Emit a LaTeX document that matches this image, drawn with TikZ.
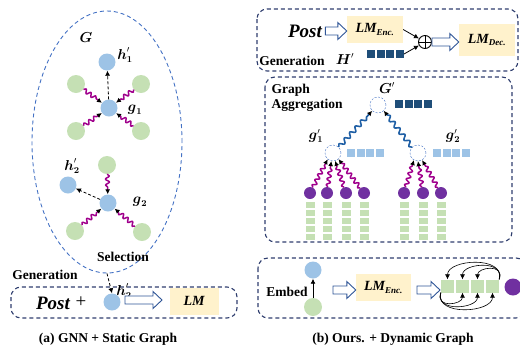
\documentclass[tikz,border=0pt]{standalone}
\usepackage{amsmath,amssymb}
\usepackage{fontspec}
\setmainfont{Liberation Serif}
\usetikzlibrary{arrows.meta,decorations.pathmorphing,shapes.geometric,calc}

\definecolor{nodeblue}{RGB}{157,195,230}
\definecolor{nodegreen}{RGB}{197,224,180}
\definecolor{nodepurple}{RGB}{112,48,160}
\definecolor{wavemag}{RGB}{160,0,140}
\definecolor{waveblue}{RGB}{31,95,165}
\definecolor{boxline}{RGB}{47,62,110}
\definecolor{ellline}{RGB}{68,114,196}
\definecolor{lmfill}{RGB}{255,242,204}
\definecolor{darksq}{RGB}{31,78,121}
\definecolor{arrowline}{RGB}{47,85,151}

\newcommand{\vb}[1]{\boldsymbol{#1}}

\begin{document}
\begin{tikzpicture}[x=1pt,y=-1pt,
	every node/.style={font=\fontsize{13.5}{15}\selectfont\bfseries},
	bnode/.style={circle, fill=nodeblue, minimum size=17pt, inner sep=0pt},
	gnode/.style={circle, fill=nodegreen, minimum size=18pt, inner sep=0pt},
	pnode/.style={circle, fill=nodepurple, minimum size=12pt, inner sep=0pt},
	vnode/.style={circle, draw=ellline, dash pattern=on 2pt off 1.5pt, fill=white, minimum size=16pt, inner sep=0pt},
	lmbox/.style={fill=lmfill, inner sep=0pt, font=\fontsize{14}{16}\selectfont\bfseries\itshape},
	grpbox/.style={draw=boxline, line width=1.1pt, dash pattern=on 4pt off 3pt, rounded corners=10pt},
	hollowarr/.style={draw=arrowline, fill=white, line width=0.9pt, line join=miter,
		to path={let \p1=(\tikztostart), \p2=(\tikztotarget) in
			(\x1,\y1+4pt) -- (\x2-9pt,\y1+4pt) -- (\x2-9pt,\y1+8.5pt) -- (\x2,\y1) -- (\x2-9pt,\y1-8.5pt) -- (\x2-9pt,\y1-4pt) -- (\x1,\y1-4pt) -- cycle}},
	wave/.style={wavemag, line width=1.5pt, line join=round, decorate, decoration={snake, amplitude=2pt, segment length=6pt, post length=5pt}, -{Latex[black,length=5pt,width=5pt]}},
	bwave/.style={waveblue, line width=1.6pt, line join=round, decorate, decoration={snake, amplitude=2.2pt, segment length=8pt, post length=5pt}, -{Latex[black,length=5pt,width=5pt]}},
	dasharr/.style={black, line width=0.8pt, dash pattern=on 3pt off 2pt, -{Latex[length=5pt,width=5pt]}},
	sqdark/.style={fill=darksq, minimum size=8pt, inner sep=0pt},
	sqlight/.style={fill=nodeblue, minimum size=8pt, inner sep=0pt},
	sqgreen/.style={fill=nodegreen, minimum width=9pt, minimum height=6.6pt, inner sep=0pt},
	sqbig/.style={fill=nodegreen, minimum size=13pt, inner sep=0pt}]
	\useasboundingbox (0,0) rectangle (520,349);

	% (a) static graph
	\node[ellipse, draw=ellline, line width=0.9pt, dash pattern=on 4pt off 3pt, minimum width=150pt, minimum height=262pt] (grp) at (107,142) {};
	\node (glab) at (86,38) {$\vb{G}$};
	\node[bnode] (h1) at (107,62) {};
	\node (h1lab) at (125,55) {$\vb{h}'_{\vb{1}}$};
	\node[bnode] (g1) at (109,108) {};
	\node (g1lab) at (135,110) {$\vb{g}_{\vb{1}}$};
	\node[gnode] (ga) at (76,84) {};
	\node[gnode] (gb) at (141,84) {};
	\node[gnode] (gc) at (76,131) {};
	\node[gnode] (gd) at (141,131) {};
	\draw[dasharr] (g1) -- (h1);
	\foreach \n in {ga,gb,gc,gd}
		\draw[wave] (\n) -- (g1);

	\node (h2lab) at (72,166) {$\vb{h}'_{\vb{2}}$};
	\node[gnode] (ge) at (107,165) {};
	\node[bnode] (h2) at (68,185) {};
	\node[bnode] (g2) at (108,203) {};
	\node (g2lab) at (140,202) {$\vb{g}_{\vb{2}}$};
	\node[gnode] (gf) at (75,231) {};
	\node[gnode] (gg) at (142,232) {};
	\draw[dasharr] (g2) -- (h2);
	\foreach \n in {ge,gf,gg}
		\draw[wave] (\n) -- (g2);
	\node (sel) at (123,257) {Selection};

	\node (gen1) at (45,275) {Generation};
	\draw[grpbox] (11,287) rectangle (237,318);
	\node[font=\fontsize{19}{21}\selectfont\bfseries\itshape] (post1) at (53,303) {Post};
	\node[font=\fontsize{19}{21}\selectfont] (plus) at (81,302) {+};
	\node[bnode] (hsel) at (112,302) {};
	\node (hsellab) at (124,291) {$\vb{h}'_{\vb{2}}$};
	\draw[dasharr] (grp.south) -- (hsel.north);
	\node[lmbox, minimum width=49pt, minimum height=27pt] (lm1) at (194,301) {LM};
	\coordinate (ha1s) at (125,300);
	\coordinate (ha1e) at (162,300);
	\draw[hollowarr] (ha1s) to (ha1e);
	\node (capa) at (108,339) {(a) GNN + Static Graph};

	% (b) dynamic graph: generation
	\draw[grpbox] (257,9) rectangle (518,71);
	\node[font=\fontsize{19}{21}\selectfont\bfseries\itshape] (post2) at (305,31) {Post};
	\node[lmbox, minimum width=56pt, minimum height=27pt] (enc1) at (375,29.5) {LM$_{\text{\fontsize{9}{10}\selectfont\bfseries\itshape Enc.}}$};
	\draw[hollowarr] (post2.east) to (enc1.west);
	\node[circle, draw, line width=0.9pt, minimum size=13pt, inner sep=0pt,
		path picture={\draw[line width=0.9pt] (path picture bounding box.north) -- (path picture bounding box.south)
			(path picture bounding box.west) -- (path picture bounding box.east);}] (osum) at (425,42) {};
	\node (gen2) at (292,61) {Generation};
	\node[font=\fontsize{13.5}{15}\selectfont] (hlab) at (345,59) {$\vb{H}'$};
	\foreach \i in {0,...,3}
		\node[sqdark] (hd\i) at (371+\i*9.6,54) {};
	\draw[-{Latex[length=5pt,width=5pt]}, line width=0.8pt] (enc1.east) -- (osum);
	\draw[-{Latex[length=5pt,width=5pt]}, line width=0.8pt] (hd3.east) -- (osum);
	\node[lmbox, minimum width=56pt, minimum height=32pt] (dec) at (487,40) {LM$_{\text{\fontsize{9}{10}\selectfont\bfseries\itshape Dec.}}$};
	\draw[hollowarr] (osum.east) to (dec.west);

	% (b) graph aggregation
	\draw[grpbox] (265,77) rectangle (512,242);
	\node[align=left, anchor=north west] (agg) at (268,81) {Graph\\Aggregation};
	\node[vnode] (gtop) at (378,105) {};
	\node (gtoplab) at (387,88) {$\vb{G}'$};
	\foreach \i in {0,...,3}
		\node[sqdark] (td\i) at (399+\i*9.6,104) {};
	\node[vnode] (gp1) at (333,153) {};
	\node (gp1lab) at (316,136) {$\vb{g}'_{\vb{1}}$};
	\foreach \i in {0,...,3}
		\node[sqlight] (la\i) at (351+\i*9.6,153) {};
	\node[vnode] (gp2) at (418,153) {};
	\node (gp2lab) at (453,136) {$\vb{g}'_{\vb{2}}$};
	\foreach \i in {0,...,3}
		\node[sqlight] (lb\i) at (437+\i*9.6,153) {};
	\draw[bwave] (gp1.north east) -- (gtop.south west);
	\draw[bwave] (gp2.north west) -- (gtop.south east);
	\foreach \x [count=\k] in {310,327,346,364,404,423,441} {
		\node[pnode] (pp\k) at (\x,193) {};
		\foreach \j in {0,...,4}
			\node[sqgreen] (col\k\j) at (\x,205+\j*8) {};
	}
	\foreach \k/\a in {1/230,2/258,3/285,4/312}
		\draw[wave] (pp\k) -- (gp1.\a);
	\foreach \k/\a in {5/240,6/270,7/300}
		\draw[wave] (pp\k) -- (gp2.\a);

	% (b) embedding
	\draw[grpbox] (258,258) rectangle (526,318);
	\node (emb) at (287,292) {Embed};
	\node[bnode] (eb) at (313,270) {};
	\node[gnode] (eg) at (313,307) {};
	\draw[-{Latex[length=5pt,width=5pt]}, line width=0.9pt] (eg.north) -- (eb.south);
	\node[lmbox, minimum width=55pt, minimum height=27pt] (enc2) at (383.5,287.5) {LM$_{\text{\fontsize{9}{10}\selectfont\bfseries\itshape Enc.}}$};
	\coordinate (ha4s) at (333,290);
	\draw[hollowarr] (ha4s) to (enc2.west);
	\foreach \i in {1,...,4}
		\node[sqbig] (s\i) at (432.5+\i*15,286) {};
	\coordinate (ha5s) at (417,290);
	\coordinate (ha5e) at (440,290);
	\draw[hollowarr] (ha5s) to (ha5e);
	\node[circle, fill=nodepurple, minimum size=17pt, inner sep=0pt] (pend) at (513,287) {};
	\foreach \i/\h in {1/20,2/16,3/12}
		\draw[-{Latex[length=5pt,width=5pt]}, line width=0.6pt] (s4.north east) .. controls +(6,-\h-4) and +(0,-\h) .. (s\i.north);
	\foreach \i/\h in {2/12,3/16,4/20}
		\draw[-{Latex[length=5pt,width=5pt]}, line width=0.6pt] (s1.south west) .. controls +(-6,\h+4) and +(0,\h) .. (s\i.south);
	\node (capb) at (393,339) {(b) Ours. + Dynamic Graph};
\end{tikzpicture}
\end{document}
